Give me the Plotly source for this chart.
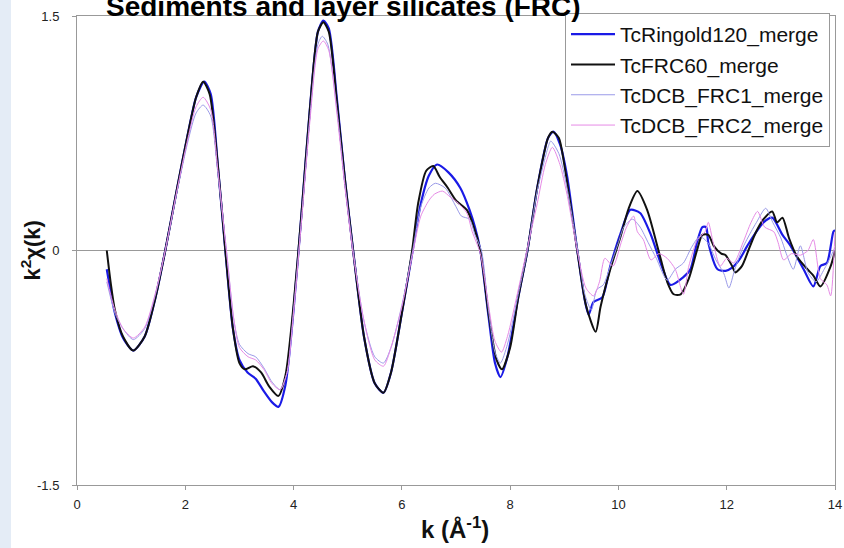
import plotly.graph_objects as go

# ---- data ----
k_ringold = [0.55,0.62,0.7,0.85,1.04,1.25,1.45,1.63,1.85,2.05,2.2,2.35,2.47,2.6,2.74,2.88,3.0,3.15,3.3,3.45,3.6,3.72,3.85,4.0,4.15,4.3,4.45,4.55,4.65,4.8,4.95,5.1,5.3,5.5,5.66,5.8,6.0,6.2,6.35,6.5,6.65,6.86,7.08,7.25,7.35,7.45,7.6,7.72,7.82,7.95,8.15,8.32,8.5,8.7,8.8,8.92,9.05,9.24,9.38,9.45,9.54,9.7,9.85,10.04,10.22,10.4,10.6,10.8,10.96,11.2,11.33,11.45,11.55,11.62,11.66,11.83,11.98,12.1,12.25,12.38,12.68,12.84,13.03,13.18,13.42,13.6,13.73,13.85,13.97,14.0]
v_ringold = [-0.12,-0.26,-0.40,-0.56,-0.64,-0.55,-0.30,0.0,0.40,0.75,0.98,1.08,1.00,0.55,0.0,-0.50,-0.70,-0.78,-0.82,-0.90,-0.97,-1.00,-0.86,-0.38,0.25,0.90,1.40,1.47,1.42,0.97,0.45,0.0,-0.55,-0.85,-0.91,-0.78,-0.40,0.0,0.30,0.48,0.55,0.50,0.40,0.26,0.15,0.0,-0.42,-0.72,-0.81,-0.68,-0.30,0.0,0.40,0.72,0.76,0.68,0.48,0.0,-0.32,-0.41,-0.33,-0.30,-0.10,0.11,0.26,0.24,0.10,-0.10,-0.22,-0.17,-0.12,0.05,0.15,0.15,0.05,-0.12,-0.13,-0.11,-0.05,0.03,0.18,0.21,0.10,0.03,-0.12,-0.23,-0.10,-0.08,0.12,0.13]

k_frc60 = [0.55,0.62,0.7,0.85,1.04,1.25,1.45,1.63,1.85,2.05,2.2,2.33,2.45,2.6,2.74,2.88,3.0,3.1,3.25,3.4,3.55,3.72,3.85,4.0,4.15,4.3,4.45,4.55,4.65,4.8,4.95,5.1,5.3,5.5,5.66,5.8,6.0,6.19,6.3,6.45,6.58,6.7,6.85,7.0,7.2,7.3,7.45,7.6,7.75,7.85,8.0,8.15,8.32,8.5,8.7,8.78,8.9,9.0,9.24,9.4,9.58,9.67,9.85,10.04,10.19,10.35,10.53,10.74,10.9,11.02,11.15,11.3,11.45,11.55,11.66,11.76,11.9,11.98,12.1,12.16,12.28,12.4,12.53,12.68,12.84,12.93,13.03,13.15,13.3,13.49,13.6,13.73,13.92,14.0]
v_frc60 = [0.0,-0.20,-0.38,-0.55,-0.64,-0.55,-0.30,0.0,0.40,0.75,0.98,1.08,1.00,0.55,0.0,-0.50,-0.72,-0.76,-0.74,-0.78,-0.87,-0.93,-0.80,-0.35,0.25,0.90,1.40,1.46,1.40,0.95,0.45,0.0,-0.55,-0.85,-0.91,-0.78,-0.40,0.0,0.30,0.51,0.54,0.47,0.40,0.32,0.26,0.18,0.0,-0.40,-0.70,-0.76,-0.62,-0.30,0.0,0.40,0.72,0.76,0.72,0.55,0.0,-0.35,-0.52,-0.36,-0.12,0.09,0.27,0.38,0.26,0.0,-0.20,-0.28,-0.28,-0.18,0.0,0.10,0.10,0.03,-0.02,-0.03,-0.10,-0.14,-0.10,0.0,0.11,0.20,0.25,0.18,0.21,0.08,-0.04,-0.12,-0.16,-0.23,-0.10,0.0]

k_frc1 = [0.55,0.62,0.7,0.85,1.04,1.25,1.45,1.63,1.85,2.05,2.2,2.33,2.47,2.6,2.76,2.9,3.0,3.16,3.3,3.45,3.6,3.75,3.88,4.0,4.15,4.3,4.45,4.53,4.63,4.8,4.95,5.1,5.3,5.5,5.66,5.8,6.0,6.2,6.35,6.5,6.62,6.8,7.0,7.1,7.25,7.35,7.47,7.6,7.72,7.82,7.95,8.15,8.32,8.5,8.7,8.75,8.9,9.05,9.25,9.38,9.5,9.6,9.72,9.85,10.0,10.1,10.26,10.4,10.55,10.7,10.9,11.05,11.2,11.35,11.5,11.65,11.8,11.95,12.04,12.15,12.3,12.45,12.55,12.72,12.85,13.0,13.1,13.23,13.36,13.5,13.65,13.8,13.92,14.0]
v_frc1 = [-0.20,-0.30,-0.40,-0.50,-0.57,-0.50,-0.28,0.0,0.38,0.70,0.88,0.93,0.86,0.50,0.0,-0.45,-0.60,-0.66,-0.68,-0.75,-0.84,-0.89,-0.78,-0.38,0.22,0.85,1.32,1.37,1.32,0.90,0.42,0.0,-0.45,-0.68,-0.72,-0.62,-0.35,0.0,0.28,0.40,0.43,0.40,0.28,0.22,0.20,0.10,0.0,-0.38,-0.65,-0.72,-0.60,-0.28,0.0,0.38,0.66,0.70,0.62,0.40,0.0,-0.28,-0.38,-0.25,-0.22,-0.10,0.05,0.15,0.20,0.15,0.05,-0.05,-0.19,-0.12,-0.08,0.02,0.09,0.05,-0.06,-0.15,-0.24,-0.12,0.02,0.12,0.18,0.27,0.18,0.08,-0.02,-0.12,0.03,-0.14,-0.20,-0.12,-0.04,0.02]

k_frc2 = [0.55,0.62,0.7,0.85,1.04,1.25,1.45,1.63,1.85,2.05,2.2,2.33,2.47,2.6,2.76,2.9,3.0,3.16,3.3,3.45,3.6,3.75,3.88,4.0,4.15,4.3,4.45,4.55,4.65,4.8,4.95,5.1,5.3,5.5,5.66,5.8,6.0,6.2,6.35,6.5,6.6,6.75,6.9,7.05,7.2,7.3,7.45,7.6,7.72,7.84,7.95,8.15,8.32,8.5,8.65,8.78,8.92,9.05,9.25,9.4,9.54,9.65,9.75,9.9,10.05,10.15,10.28,10.35,10.46,10.6,10.75,10.9,11.05,11.2,11.3,11.46,11.6,11.66,11.75,11.88,12.0,12.13,12.3,12.45,12.57,12.7,12.87,12.95,13.05,13.2,13.36,13.5,13.6,13.73,13.85,13.92,14.0]
v_frc2 = [-0.18,-0.28,-0.38,-0.50,-0.56,-0.49,-0.27,0.0,0.39,0.72,0.92,0.98,0.90,0.52,0.0,-0.45,-0.62,-0.68,-0.70,-0.76,-0.85,-0.89,-0.78,-0.40,0.20,0.82,1.29,1.34,1.28,0.88,0.40,-0.02,-0.45,-0.70,-0.74,-0.62,-0.36,-0.02,0.22,0.32,0.36,0.38,0.34,0.30,0.24,0.12,-0.02,-0.35,-0.58,-0.65,-0.55,-0.25,0.02,0.30,0.55,0.66,0.55,0.36,-0.02,-0.24,-0.29,-0.20,-0.05,-0.10,0.05,0.15,0.22,0.12,0.07,-0.06,-0.02,-0.05,-0.12,-0.28,-0.10,0.07,0.12,0.18,0.05,-0.10,-0.05,-0.08,0.05,0.18,0.25,0.15,0.12,0.05,-0.06,-0.02,-0.03,0.00,0.07,-0.18,-0.22,-0.29,0.12]

series_names = ["TcRingold120_merge", "TcFRC60_merge", "TcDCB_FRC1_merge", "TcDCB_FRC2_merge"]
x_ticks = [0, 2, 4, 6, 8, 10, 12, 14]
y_ticks = [-1.5, 0, 1.5]
y_ticktext = ["-1.5", "0", "1.5"]

fig = go.Figure()
styles = [("#1a1ae6", 2.2), ("#111111", 2.0), ("#9a9ae8", 1.0), ("#e68ae6", 1.0)]
data = [(k_ringold, v_ringold), (k_frc60, v_frc60), (k_frc1, v_frc1), (k_frc2, v_frc2)]
for name, (kx, vy), (col, w) in zip(series_names, data, styles):
    fig.add_trace(go.Scatter(x=kx, y=vy, mode="lines", name=name,
                             line=dict(color=col, width=w, shape="spline", smoothing=0.7)))

FONT = "Liberation Sans, Arial, sans-serif"
fig.update_layout(
    width=844, height=548,
    margin=dict(l=77, r=9, t=16, b=63, autoexpand=False),
    paper_bgcolor="white", plot_bgcolor="white",
    font=dict(family=FONT, color="#222"),
    showlegend=True,
    legend=dict(x=(565 - 77) / 758, y=1.0 + 3 / 469, xanchor="left", yanchor="top",
                bgcolor="white", bordercolor="#999", borderwidth=1,
                font=dict(size=21, family=FONT, color="#111"),
                itemwidth=44, tracegroupgap=0),
    xaxis=dict(range=[0, 14], tickvals=x_ticks, ticktext=[str(t) for t in x_ticks],
               showgrid=False, zeroline=False, showline=True, linecolor="#999",
               mirror=True, ticks="outside", ticklen=4, tickcolor="#999",
               ticklabelstandoff=3, automargin=False,
               tickfont=dict(size=13, family=FONT, color="#222")),
    yaxis=dict(range=[-1.5, 1.5], tickvals=y_ticks, ticktext=y_ticktext,
               showgrid=False, zeroline=True, zerolinecolor="#999", zerolinewidth=1,
               showline=True, linecolor="#999", mirror=True,
               ticks="outside", ticklen=4, tickcolor="#999",
               ticklabelstandoff=10, automargin=False,
               tickfont=dict(size=13, family=FONT, color="#222")),
)

# chart title (top partly cut by the page edge, as in the reference)
fig.add_annotation(text="<b>Sediments and layer silicates (FRC)</b>", xref="paper", yref="paper",
                   x=(343 - 77) / 758, y=1.0, xanchor="center", yanchor="bottom", yshift=-8,
                   showarrow=False, font=dict(size=28, family=FONT, color="#000"))
# axis titles
fig.add_annotation(text="<b>k (Å<sup>-1</sup>)</b>", xref="paper", yref="paper",
                   x=(455 - 77) / 758, y=0, xanchor="center", yanchor="middle", yshift=-43,
                   showarrow=False, font=dict(size=24, family=FONT, color="#111"))
fig.add_annotation(text="<b>k<sup>2</sup>χ(k)</b>", xref="paper", yref="paper",
                   x=0, y=0.5, xanchor="center", yanchor="middle", xshift=-47, textangle=-90,
                   showarrow=False, font=dict(size=22, family=FONT, color="#111"))

fig.add_shape(type="rect", xref="paper", yref="paper", x0=-77/758, x1=-66/758, y0=-63/469, y1=1+16/469,
              fillcolor="#e4ecf6", line=dict(width=0), layer="below")

fig.write_html("out.html", config={"displayModeBar": False},
               post_script="document.body.style.margin='0';")
